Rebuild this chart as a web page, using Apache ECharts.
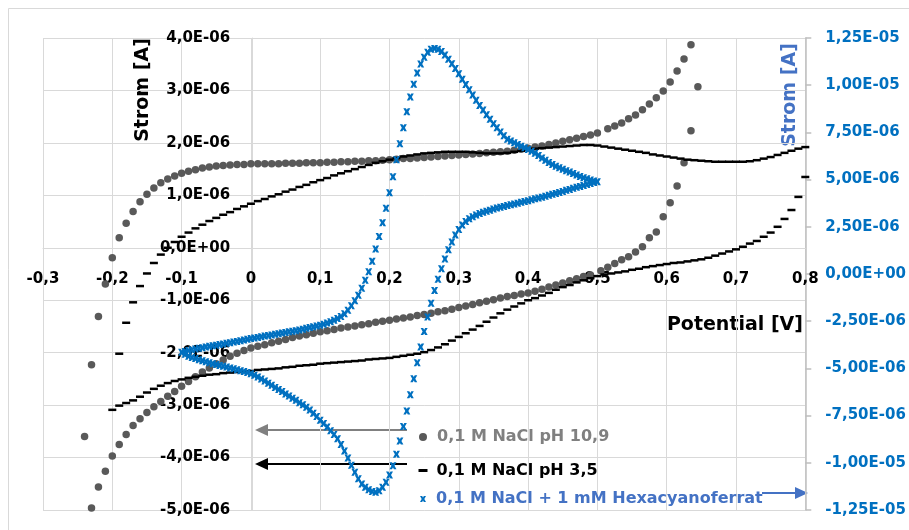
<!DOCTYPE html>
<html>
<head>
<meta charset="utf-8">
<script src="https://cdn.jsdelivr.net/npm/echarts@6/dist/echarts.min.js"></script>
<style>
  html, body { margin: 0; background: #fff; }
  #chart { width: 909px; height: 530px; }
</style>
</head>
<body>
<div id="chart"></div>
<script>
// currents in units of 1E-06 A, potentials in V
const seriesNames = ['0,1 M NaCl pH 10,9', '0,1 M NaCl pH 3,5', '0,1 M NaCl + 1 mM Hexacyanoferrat']

// pH 10,9 (left axis) [potential, current]
const basicScan = [
  [-0.23, -2.23], [-0.22, -1.31], [-0.21, -0.69], [-0.20, -0.19], [-0.19, 0.19], [-0.18, 0.47], [-0.17, 0.69],
  [-0.16, 0.88], [-0.15, 1.02], [-0.14, 1.14], [-0.13, 1.24], [-0.12, 1.31], [-0.11, 1.37], [-0.10, 1.42],
  [-0.09, 1.46], [-0.08, 1.49], [-0.07, 1.52], [-0.06, 1.54], [-0.05, 1.56], [-0.04, 1.57], [-0.03, 1.58],
  [-0.02, 1.59], [-0.01, 1.59], [0.00, 1.60], [0.01, 1.60], [0.02, 1.60], [0.03, 1.60], [0.04, 1.60],
  [0.05, 1.61], [0.06, 1.61], [0.07, 1.61], [0.08, 1.62], [0.09, 1.62], [0.10, 1.62], [0.11, 1.63],
  [0.12, 1.63], [0.13, 1.64], [0.14, 1.64], [0.15, 1.65], [0.16, 1.65], [0.17, 1.66], [0.18, 1.66],
  [0.19, 1.67], [0.20, 1.68], [0.21, 1.69], [0.22, 1.70], [0.23, 1.70], [0.24, 1.71], [0.25, 1.72],
  [0.26, 1.73], [0.27, 1.74], [0.28, 1.75], [0.29, 1.76], [0.30, 1.77], [0.31, 1.78], [0.32, 1.79],
  [0.33, 1.80], [0.34, 1.81], [0.35, 1.82], [0.36, 1.83], [0.37, 1.84], [0.38, 1.86], [0.39, 1.88],
  [0.40, 1.90], [0.41, 1.92], [0.42, 1.94], [0.43, 1.97], [0.44, 2.00], [0.45, 2.03], [0.46, 2.06],
  [0.47, 2.09], [0.48, 2.12], [0.49, 2.15], [0.50, 2.19], [0.515, 2.27], [0.525, 2.32], [0.535, 2.38],
  [0.545, 2.46], [0.555, 2.53], [0.565, 2.63], [0.575, 2.74], [0.585, 2.86], [0.595, 2.99], [0.605, 3.16],
  [0.615, 3.37], [0.625, 3.60], [0.635, 3.87], [0.645, 3.07],
  [0.635, 2.23], [0.625, 1.62], [0.615, 1.18], [0.605, 0.86], [0.595, 0.59], [0.585, 0.30], [0.575, 0.19],
  [0.565, 0.02], [0.555, -0.08], [0.545, -0.17], [0.535, -0.23], [0.525, -0.30], [0.515, -0.37], [0.505, -0.44],
  [0.49, -0.52], [0.48, -0.55], [0.47, -0.59], [0.46, -0.63], [0.45, -0.67], [0.44, -0.71], [0.43, -0.75],
  [0.42, -0.79], [0.41, -0.83], [0.40, -0.86], [0.39, -0.88], [0.38, -0.91], [0.37, -0.93], [0.36, -0.96],
  [0.35, -0.99], [0.34, -1.02], [0.33, -1.05], [0.32, -1.08], [0.31, -1.11], [0.30, -1.14], [0.29, -1.17],
  [0.28, -1.20], [0.27, -1.22], [0.26, -1.25], [0.25, -1.27], [0.24, -1.29], [0.23, -1.32], [0.22, -1.34],
  [0.21, -1.36], [0.20, -1.38], [0.19, -1.40], [0.18, -1.42], [0.17, -1.45], [0.16, -1.47], [0.15, -1.49],
  [0.14, -1.51], [0.13, -1.53], [0.12, -1.56], [0.11, -1.58], [0.10, -1.60], [0.09, -1.63], [0.08, -1.66],
  [0.07, -1.68], [0.06, -1.71], [0.05, -1.75], [0.04, -1.78], [0.03, -1.81], [0.02, -1.85], [0.01, -1.88],
  [0.00, -1.91], [-0.01, -1.96], [-0.02, -2.01], [-0.03, -2.07], [-0.04, -2.14], [-0.05, -2.21], [-0.06, -2.29],
  [-0.07, -2.37], [-0.08, -2.46], [-0.09, -2.55], [-0.10, -2.64], [-0.11, -2.74], [-0.12, -2.83], [-0.13, -2.93],
  [-0.14, -3.03], [-0.15, -3.14], [-0.16, -3.26], [-0.17, -3.39], [-0.18, -3.56], [-0.19, -3.75], [-0.20, -3.97],
  [-0.21, -4.26], [-0.22, -4.56], [-0.23, -4.96], [-0.24, -3.60]
]

// pH 3,5 (left axis) [potential, current]
const acidScan = [
  [-0.19, -2.02], [-0.18, -1.43], [-0.17, -1.04], [-0.16, -0.73], [-0.15, -0.49], [-0.14, -0.29], [-0.13, -0.13],
  [-0.12, 0.00], [-0.11, 0.11], [-0.10, 0.21], [-0.09, 0.29], [-0.08, 0.37], [-0.07, 0.44], [-0.06, 0.51],
  [-0.05, 0.57], [-0.04, 0.63], [-0.03, 0.68], [-0.02, 0.74], [-0.01, 0.79], [0.00, 0.84], [0.01, 0.89],
  [0.02, 0.93], [0.03, 0.98], [0.04, 1.02], [0.05, 1.07], [0.06, 1.11], [0.07, 1.16], [0.08, 1.20],
  [0.09, 1.25], [0.10, 1.29], [0.11, 1.33], [0.12, 1.38], [0.13, 1.42], [0.14, 1.46], [0.15, 1.50],
  [0.16, 1.54], [0.17, 1.58], [0.18, 1.62], [0.19, 1.65], [0.20, 1.68], [0.21, 1.71], [0.22, 1.74],
  [0.23, 1.76], [0.24, 1.78], [0.25, 1.80], [0.26, 1.81], [0.27, 1.82], [0.28, 1.83], [0.29, 1.83],
  [0.30, 1.83], [0.31, 1.83], [0.32, 1.82], [0.33, 1.81], [0.34, 1.80], [0.35, 1.80], [0.36, 1.80],
  [0.37, 1.81], [0.38, 1.83], [0.39, 1.85], [0.40, 1.87], [0.41, 1.89], [0.42, 1.90], [0.43, 1.91],
  [0.44, 1.92], [0.45, 1.93], [0.46, 1.94], [0.47, 1.95], [0.48, 1.96], [0.49, 1.96], [0.50, 1.95],
  [0.51, 1.93], [0.52, 1.91], [0.53, 1.89], [0.54, 1.87], [0.55, 1.85], [0.56, 1.83], [0.57, 1.81],
  [0.58, 1.78], [0.59, 1.76], [0.60, 1.74], [0.61, 1.72], [0.62, 1.70], [0.63, 1.68], [0.64, 1.67],
  [0.65, 1.66], [0.66, 1.65], [0.67, 1.64], [0.68, 1.64], [0.69, 1.64], [0.70, 1.64], [0.71, 1.64],
  [0.72, 1.65], [0.73, 1.67], [0.74, 1.70], [0.75, 1.73], [0.76, 1.77], [0.77, 1.81], [0.78, 1.85],
  [0.79, 1.89], [0.80, 1.92],
  [0.80, 1.35], [0.79, 0.97], [0.78, 0.72], [0.77, 0.55], [0.76, 0.40], [0.75, 0.29], [0.74, 0.21],
  [0.73, 0.13], [0.72, 0.08], [0.71, 0.02], [0.70, -0.03], [0.69, -0.07], [0.68, -0.11], [0.67, -0.15],
  [0.66, -0.19], [0.65, -0.22], [0.64, -0.24], [0.63, -0.26], [0.62, -0.28], [0.61, -0.29], [0.60, -0.31],
  [0.59, -0.33], [0.58, -0.35], [0.57, -0.37], [0.56, -0.40], [0.55, -0.42], [0.54, -0.45], [0.53, -0.47],
  [0.52, -0.49], [0.51, -0.51], [0.50, -0.54], [0.49, -0.58], [0.48, -0.62], [0.47, -0.66], [0.46, -0.71],
  [0.45, -0.75], [0.44, -0.80], [0.43, -0.86], [0.42, -0.91], [0.41, -0.96], [0.40, -1.00], [0.39, -1.06],
  [0.38, -1.12], [0.37, -1.18], [0.36, -1.25], [0.35, -1.33], [0.34, -1.41], [0.33, -1.49], [0.32, -1.56],
  [0.31, -1.63], [0.30, -1.70], [0.29, -1.77], [0.28, -1.84], [0.27, -1.90], [0.26, -1.95], [0.25, -1.99],
  [0.24, -2.02], [0.23, -2.04], [0.22, -2.06], [0.21, -2.08], [0.20, -2.10], [0.19, -2.11], [0.18, -2.12],
  [0.17, -2.13], [0.16, -2.15], [0.15, -2.16], [0.14, -2.17], [0.13, -2.18], [0.12, -2.19], [0.11, -2.20],
  [0.10, -2.21], [0.09, -2.23], [0.08, -2.24], [0.07, -2.25], [0.06, -2.27], [0.05, -2.28], [0.04, -2.30],
  [0.03, -2.31], [0.02, -2.32], [0.01, -2.33], [0.00, -2.35], [-0.01, -2.36], [-0.02, -2.37], [-0.03, -2.38],
  [-0.04, -2.39], [-0.05, -2.41], [-0.06, -2.42], [-0.07, -2.44], [-0.08, -2.46], [-0.09, -2.48], [-0.10, -2.51],
  [-0.11, -2.54], [-0.12, -2.58], [-0.13, -2.63], [-0.14, -2.69], [-0.15, -2.76], [-0.16, -2.84], [-0.17, -2.91],
  [-0.18, -2.96], [-0.19, -3.01], [-0.20, -3.09]
]

// Hexacyanoferrat (right axis) [potential, current]
const ferriScan = [
  [-0.100, -4.15], [-0.095, -4.10], [-0.090, -4.05], [-0.085, -4.01], [-0.080, -3.97], [-0.075, -3.93],
  [-0.070, -3.90], [-0.065, -3.86], [-0.060, -3.83], [-0.055, -3.80], [-0.050, -3.77], [-0.045, -3.74],
  [-0.040, -3.71], [-0.035, -3.67], [-0.030, -3.64], [-0.025, -3.60], [-0.020, -3.57], [-0.015, -3.53],
  [-0.010, -3.50], [-0.005, -3.46], [0.000, -3.42], [0.005, -3.39], [0.010, -3.36], [0.015, -3.32],
  [0.020, -3.29], [0.025, -3.26], [0.030, -3.23], [0.035, -3.19], [0.040, -3.16], [0.045, -3.13],
  [0.050, -3.10], [0.055, -3.06], [0.060, -3.03], [0.065, -3.00], [0.070, -2.96], [0.075, -2.92],
  [0.080, -2.88], [0.085, -2.84], [0.090, -2.80], [0.095, -2.76], [0.100, -2.71], [0.105, -2.66],
  [0.110, -2.60], [0.115, -2.53], [0.120, -2.45], [0.125, -2.36], [0.130, -2.25], [0.135, -2.11],
  [0.140, -1.92], [0.145, -1.68], [0.150, -1.42], [0.155, -1.12], [0.160, -0.75], [0.165, -0.33],
  [0.170, 0.12], [0.175, 0.68], [0.180, 1.32], [0.185, 1.98], [0.190, 2.72], [0.195, 3.48],
  [0.200, 4.30], [0.205, 5.15], [0.210, 6.05], [0.215, 6.90], [0.220, 7.75], [0.225, 8.60],
  [0.230, 9.38], [0.235, 10.05], [0.240, 10.65], [0.245, 11.12], [0.250, 11.48], [0.255, 11.74],
  [0.260, 11.90], [0.265, 11.95], [0.270, 11.90], [0.275, 11.78], [0.280, 11.60], [0.285, 11.38],
  [0.290, 11.14], [0.295, 10.88], [0.300, 10.60], [0.305, 10.32], [0.310, 10.04], [0.315, 9.76],
  [0.320, 9.48], [0.325, 9.20], [0.330, 8.93], [0.335, 8.68], [0.340, 8.43], [0.345, 8.19],
  [0.350, 7.96], [0.355, 7.74], [0.360, 7.52], [0.365, 7.32], [0.370, 7.14], [0.375, 7.04],
  [0.380, 6.95], [0.385, 6.86], [0.390, 6.77], [0.395, 6.69], [0.400, 6.60], [0.405, 6.50],
  [0.410, 6.40], [0.415, 6.28], [0.420, 6.15], [0.425, 6.02], [0.430, 5.90], [0.435, 5.80],
  [0.440, 5.71], [0.445, 5.63], [0.450, 5.55], [0.455, 5.47], [0.460, 5.40], [0.465, 5.32],
  [0.470, 5.24], [0.475, 5.17], [0.480, 5.10], [0.485, 5.04], [0.490, 4.98], [0.495, 4.93],
  [0.500, 4.89],
  [0.495, 4.84], [0.490, 4.79], [0.485, 4.74], [0.480, 4.69], [0.475, 4.64], [0.470, 4.59],
  [0.465, 4.54], [0.460, 4.48], [0.455, 4.43], [0.450, 4.37], [0.445, 4.32], [0.440, 4.27],
  [0.435, 4.22], [0.430, 4.17], [0.425, 4.12], [0.420, 4.07], [0.415, 4.02], [0.410, 3.98],
  [0.405, 3.93], [0.400, 3.88], [0.395, 3.84], [0.390, 3.80], [0.385, 3.75], [0.380, 3.71],
  [0.375, 3.67], [0.370, 3.63], [0.365, 3.58], [0.360, 3.54], [0.355, 3.49], [0.350, 3.44],
  [0.345, 3.38], [0.340, 3.33], [0.335, 3.27], [0.330, 3.20], [0.325, 3.12], [0.320, 3.03],
  [0.315, 2.92], [0.310, 2.78], [0.305, 2.60], [0.300, 2.36], [0.295, 2.06], [0.290, 1.70],
  [0.285, 1.28], [0.280, 0.80], [0.275, 0.28], [0.270, -0.28], [0.265, -0.88], [0.260, -1.55],
  [0.255, -2.28], [0.250, -3.05], [0.245, -3.86], [0.240, -4.70], [0.235, -5.55], [0.230, -6.40],
  [0.225, -7.25], [0.220, -8.08], [0.215, -8.85], [0.210, -9.55], [0.205, -10.15], [0.200, -10.65],
  [0.195, -11.03], [0.190, -11.30], [0.185, -11.48], [0.180, -11.56], [0.175, -11.52], [0.170, -11.43],
  [0.165, -11.30], [0.160, -11.12], [0.155, -10.85], [0.150, -10.50], [0.145, -10.13], [0.140, -9.75],
  [0.135, -9.38], [0.130, -9.03], [0.125, -8.72], [0.120, -8.50], [0.115, -8.30], [0.110, -8.10],
  [0.105, -7.92], [0.100, -7.75], [0.095, -7.55], [0.090, -7.38], [0.085, -7.21], [0.080, -7.06],
  [0.075, -6.93], [0.070, -6.82], [0.065, -6.69], [0.060, -6.58], [0.055, -6.46], [0.050, -6.35],
  [0.045, -6.23], [0.040, -6.12], [0.035, -6.01], [0.030, -5.89], [0.025, -5.78], [0.020, -5.67],
  [0.015, -5.56], [0.010, -5.45], [0.005, -5.36], [0.000, -5.28], [-0.005, -5.22], [-0.010, -5.17],
  [-0.015, -5.12], [-0.020, -5.07], [-0.025, -5.02], [-0.030, -4.98], [-0.035, -4.93], [-0.040, -4.89],
  [-0.045, -4.84], [-0.050, -4.80], [-0.055, -4.75], [-0.060, -4.70], [-0.065, -4.65], [-0.070, -4.60],
  [-0.075, -4.54], [-0.080, -4.48], [-0.085, -4.42], [-0.090, -4.35], [-0.095, -4.25]
]

const FONT = '"DejaVu Sans", sans-serif'
const GRID_GREY = '#d9d9d9'
const xMark = 'path://M0,0 L3.6,0 L5,2.4 L6.4,0 L10,0 L7.2,5 L10,10 L6.4,10 L5,7.6 L3.6,10 L0,10 L2.8,5 Z'

// Excel style scientific label, value given in 1E-06
function sci(v, digits) {
  const s = (v * 1e-6).toExponential(digits)
  const [m, e] = s.split('e')
  const sign = e[0] === '-' ? '-' : '+'
  const ex = String(Math.abs(parseInt(e, 10))).padStart(2, '0')
  return m.replace('.', ',') + 'E' + sign + ex
}

function potLabel(v) {
  if (Math.abs(v) < 1e-9) return '0'
  return String(Math.round(v * 10) / 10).replace('.', ',')
}

function arrow(x1, x2, y, color) {
  const dir = x2 > x1 ? 1 : -1
  const base = x2 - dir * 13
  return [
    { type: 'line', silent: true, shape: { x1: x1, y1: y, x2: base, y2: y }, style: { stroke: color, lineWidth: 2 } },
    { type: 'polygon', silent: true, shape: { points: [[x2, y], [base, y - 6], [base, y + 6]] }, style: { fill: color } }
  ]
}

const chart = echarts.init(document.getElementById('chart'))

// plot area: x 43..810, y 38..510; x axis crosses at left-axis zero, left axis at potential 0
const plot = { left: 43, right: 810, top: 38, bottom: 510 }
const xCrossOffset = -(plot.bottom - (plot.top + (plot.bottom - plot.top) * 4 / 9))
const yCrossOffset = -((plot.right - plot.left) * 3 / 11)

chart.setOption({
  animation: false,
  backgroundColor: '#fff',
  grid: { left: plot.left, right: 909 - plot.right, top: plot.top, bottom: 530 - plot.bottom },
  xAxis: {
    type: 'value',
    position: 'bottom',
    offset: xCrossOffset,
    min: -0.3,
    max: 0.8,
    interval: 0.1,
    axisLine: { onZero: false, lineStyle: { color: GRID_GREY } },
    axisTick: { show: false },
    axisLabel: { margin: 24, color: '#000', fontWeight: 'bold', fontSize: 15, fontFamily: FONT, formatter: potLabel },
    splitLine: { show: true, lineStyle: { color: GRID_GREY } }
  },
  yAxis: [
    {
      type: 'value',
      position: 'left',
      offset: yCrossOffset,
      min: -5,
      max: 4,
      interval: 1,
      axisLine: { show: true, onZero: false, lineStyle: { color: GRID_GREY } },
      axisTick: { show: false },
      axisLabel: { margin: 22, color: '#000', fontWeight: 'bold', fontSize: 15, fontFamily: FONT, formatter: (v) => sci(v, 1) },
      splitLine: { show: true, lineStyle: { color: GRID_GREY } }
    },
    {
      type: 'value',
      position: 'right',
      min: -12.5,
      max: 12.5,
      interval: 2.5,
      axisLine: { show: true, onZero: false, lineStyle: { color: '#bfbfbf', width: 1.5 } },
      axisTick: { show: true, length: 6, lineStyle: { color: '#bfbfbf', width: 1.5 } },
      axisLabel: { margin: 20, color: '#0070C0', fontWeight: 'bold', fontSize: 15, fontFamily: FONT, formatter: (v) => sci(v, 2) },
      splitLine: { show: false }
    }
  ],
  legend: [
    {
      data: [{ name: seriesNames[0], icon: 'circle' }],
      left: 419, top: 429, padding: 0, itemWidth: 8, itemHeight: 8, selectedMode: false,
      textStyle: { color: '#808080', fontWeight: 'bold', fontSize: 16, fontFamily: FONT, padding: [0, 0, 0, 5] }
    },
    {
      data: [{ name: seriesNames[1], icon: 'rect' }],
      left: 418.5, top: 462.5, padding: 0, itemWidth: 9, itemHeight: 3, selectedMode: false,
      textStyle: { color: '#000', fontWeight: 'bold', fontSize: 16, fontFamily: FONT, padding: [0, 0, 0, 4] }
    },
    {
      data: [{ name: seriesNames[2], icon: xMark }],
      left: 420, top: 491, padding: 0, itemWidth: 6, itemHeight: 6, selectedMode: false,
      textStyle: { color: '#4472C4', fontWeight: 'bold', fontSize: 16, fontFamily: FONT, padding: [0, 0, 0, 5] }
    }
  ],
  graphic: [
    { type: 'rect', silent: true, z: -10, shape: { x: 8.5, y: 8.5, width: 1000, height: 1000 }, style: { fill: 'none', stroke: GRID_GREY, lineWidth: 1 } },
    { type: 'text', silent: true, x: 143, y: 90, rotation: Math.PI / 2,
      style: { text: 'Strom [A]', font: 'bold 19px ' + FONT, fill: '#000', align: 'center', verticalAlign: 'middle' } },
    { type: 'text', silent: true, x: 790, y: 95, rotation: Math.PI / 2,
      style: { text: 'Strom [A]', font: 'bold 19px ' + FONT, fill: '#4472C4', align: 'center', verticalAlign: 'middle' } },
    { type: 'text', silent: true, x: 803, y: 325,
      style: { text: 'Potential [V]', font: 'bold 19px ' + FONT, fill: '#000', align: 'right', verticalAlign: 'middle' } },
    ...arrow(407, 255, 430, '#808080'),
    ...arrow(407, 255, 464, '#000000'),
    ...arrow(762, 808, 493, '#4472C4')
  ],
  series: [
    {
      name: seriesNames[0],
      type: 'scatter',
      yAxisIndex: 0,
      data: basicScan,
      symbol: 'circle',
      symbolSize: 7.5,
      itemStyle: { color: '#595959', opacity: 1 }
    },
    {
      name: seriesNames[1],
      type: 'scatter',
      yAxisIndex: 0,
      data: acidScan,
      symbol: 'rect',
      symbolSize: [8, 2.5],
      itemStyle: { color: '#000', opacity: 1 }
    },
    {
      name: seriesNames[2],
      type: 'scatter',
      yAxisIndex: 1,
      data: ferriScan,
      symbol: xMark,
      symbolSize: 7,
      itemStyle: { color: '#0070C0', opacity: 1 }
    }
  ]
})

window.addEventListener('resize', () => chart.resize())
</script>
</body>
</html>
